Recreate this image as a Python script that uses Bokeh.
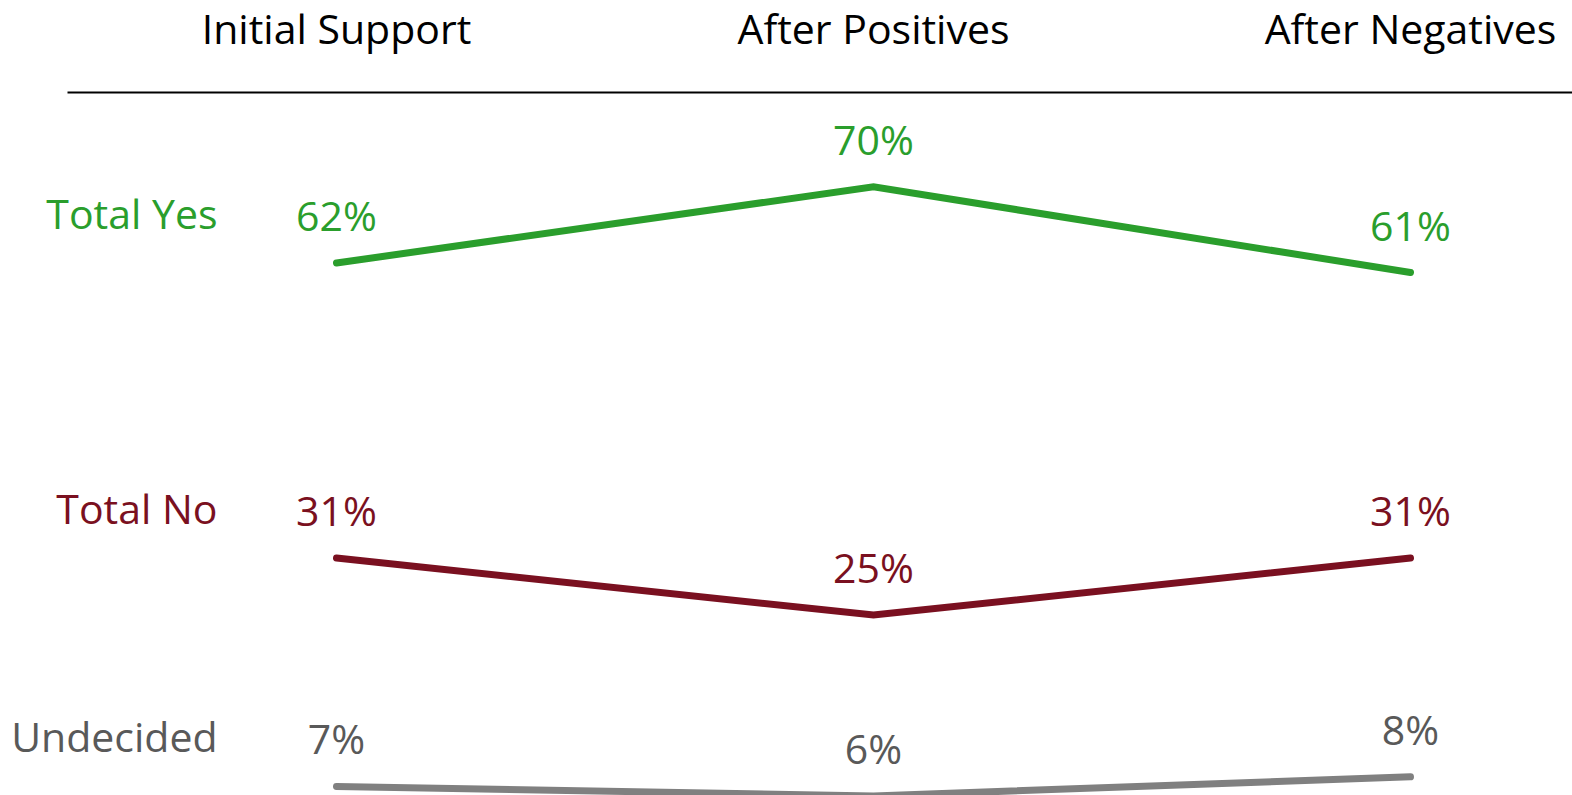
from bokeh.plotting import figure
from bokeh.models import Range1d, ColumnDataSource
from bokeh.embed import file_html
from bokeh.resources import INLINE
from bokeh.core.properties import value

# ---- data ----
categories = ["Initial Support", "After Positives", "After Negatives"]
series_names = ["Total Yes", "Total No", "Undecided"]
total_yes = [62, 70, 61]
total_no = [31, 25, 31]
undecided = [7, 6, 8]

series_values = [total_yes, total_no, undecided]
line_colors = ["#2A9E2C", "#7A1020", "#808080"]
text_colors = ["#2A9E2C", "#7A1020", "#595959"]

# ---- layout ----
W, H = 1572, 795
PX_X = 537.0          # pixels per category step
PX_Y = 9.516          # pixels per percentage point
x0 = -336 / PX_X
x1 = x0 + W / PX_X
y_top = 62 + 262.5 / PX_Y
y_bot = y_top - H / PX_Y

FONT = value("Open Sans")
FS = "41px"

p = figure(width=W, height=H, output_backend="svg", toolbar_location=None,
           x_range=Range1d(x0, x1), y_range=Range1d(y_bot, y_top),
           x_axis_type=None, y_axis_type=None, min_border=0,
           background_fill_color="white", border_fill_color="white")
p.grid.visible = False
p.outline_line_color = None

xs = list(range(len(categories)))

# header labels
hdr_y = y_top - 27 / PX_Y
hdr = ColumnDataSource(dict(x=xs, y=[hdr_y] * len(xs), t=categories))
p.text(x="x", y="y", text="t", source=hdr, text_font=FONT, text_font_size=FS,
       text_color="black", text_align="center", text_baseline="middle")

# horizontal rule under headers
rule_y = y_top - 92 / PX_Y
p.segment(x0=[x0 + 67 / PX_X], x1=[x1 + 1], y0=[rule_y], y1=[rule_y],
          line_color="black", line_width=2)

label_x = x0 + 217 / PX_X
for name, vals, lc, tc in zip(series_names, series_values, line_colors, text_colors):
    src = ColumnDataSource(dict(x=xs, y=vals, t=[f"{v}%" for v in vals]))
    p.line(x="x", y="y", source=src, line_color=lc, line_width=7,
           line_cap="round", line_join="miter")
    p.text(x="x", y="y", text="t", source=src, text_font=FONT, text_font_size=FS,
           text_color=tc, text_align="center", text_baseline="middle", y_offset=-48)
    p.text(x=[label_x], y=[vals[0]], text=[name], text_font=FONT, text_font_size=FS,
           text_color=tc, text_align="right", text_baseline="middle", y_offset=-50)

open("out.html", "w").write(file_html(p, INLINE))
